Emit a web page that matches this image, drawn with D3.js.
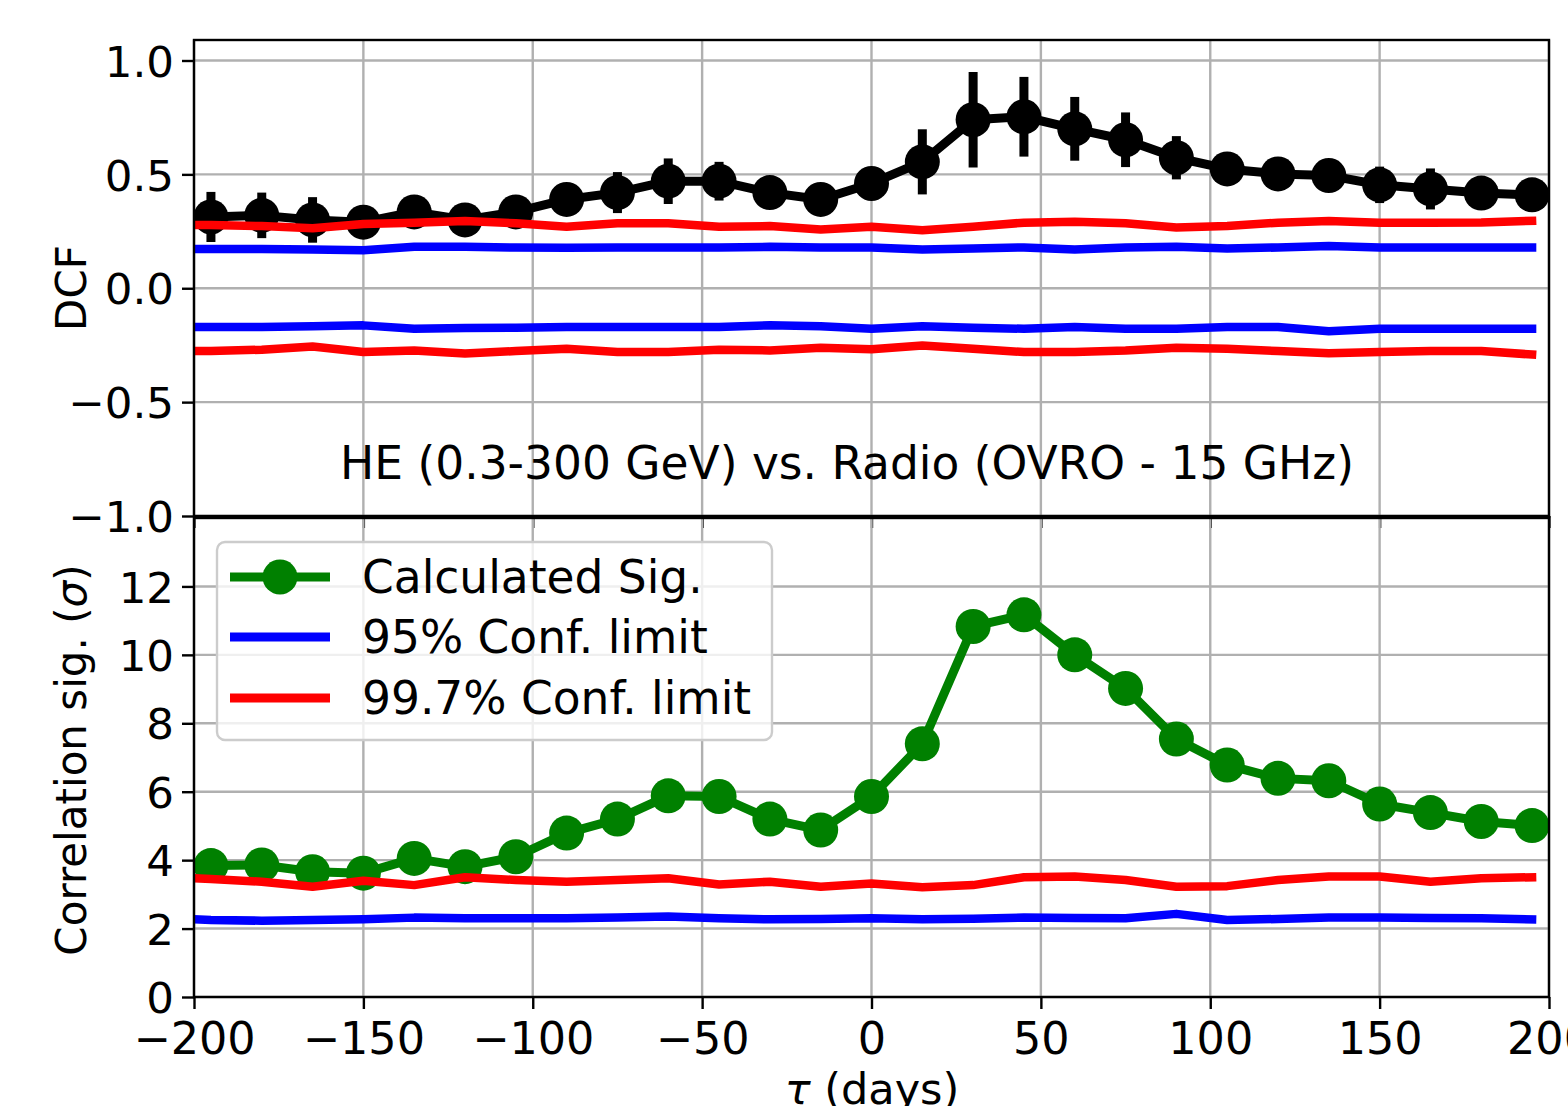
<!DOCTYPE html>
<html><head><meta charset="utf-8">
<script src="https://cdn.jsdelivr.net/npm/d3@7"></script>
<style>html,body{margin:0;padding:0;background:#fff;overflow:hidden}</style>
</head><body>
<svg id="chart" width="1568" height="1106"></svg>
<script>
// ---------- DATA ----------
const tau = [-195,-180,-165,-150,-135,-120,-105,-90,-75,-60,-45,-30,-15,0,15,30,45,60,75,90,105,120,135,150,165,180,195];
const dcf = [0.313,0.32,0.30,0.29,0.335,0.30,0.335,0.39,0.42,0.47,0.47,0.42,0.39,0.46,0.555,0.74,0.753,0.70,0.652,0.573,0.524,0.502,0.495,0.454,0.436,0.418,0.41];
const dcfErr = [0.11,0.10,0.10,0.06,0.06,0.06,0.06,0.06,0.09,0.10,0.085,0.06,0.06,0.06,0.143,0.21,0.175,0.14,0.12,0.095,0.06,0.06,0.06,0.08,0.09,0.06,0.05];
const sig = [3.84,3.86,3.66,3.62,4.05,3.81,4.10,4.79,5.20,5.88,5.86,5.20,4.88,5.86,7.40,10.83,11.17,10.0,9.02,7.54,6.78,6.39,6.32,5.64,5.39,5.13,5.01];

const limitTau = [-200,-195,-180,-165,-150,-135,-120,-105,-90,-75,-60,-45,-30,-15,0,15,30,45,60,75,90,105,120,135,150,165,180,195];
const dcf997Pos = [0.278,0.278,0.273,0.263,0.282,0.288,0.295,0.285,0.270,0.285,0.285,0.270,0.273,0.258,0.270,0.255,0.270,0.288,0.292,0.285,0.267,0.273,0.288,0.295,0.288,0.288,0.289,0.296];
const dcf95Pos = [0.172,0.172,0.172,0.170,0.167,0.182,0.182,0.179,0.178,0.179,0.179,0.179,0.182,0.179,0.179,0.170,0.175,0.179,0.170,0.179,0.182,0.175,0.179,0.185,0.179,0.179,0.179,0.179];
const dcf95Neg = [-0.170,-0.170,-0.170,-0.167,-0.163,-0.178,-0.175,-0.173,-0.170,-0.170,-0.170,-0.170,-0.163,-0.167,-0.178,-0.167,-0.173,-0.178,-0.170,-0.178,-0.178,-0.170,-0.170,-0.189,-0.178,-0.178,-0.178,-0.178];
const dcf997Neg = [-0.275,-0.275,-0.270,-0.256,-0.280,-0.273,-0.286,-0.276,-0.266,-0.280,-0.280,-0.270,-0.273,-0.261,-0.268,-0.251,-0.266,-0.280,-0.280,-0.273,-0.261,-0.266,-0.276,-0.285,-0.280,-0.276,-0.276,-0.291];
const sig997 = [3.47,3.45,3.37,3.22,3.40,3.27,3.50,3.42,3.37,3.42,3.47,3.29,3.37,3.22,3.32,3.21,3.27,3.50,3.52,3.42,3.22,3.24,3.42,3.52,3.52,3.37,3.47,3.50];
const sig95 = [2.27,2.25,2.23,2.25,2.27,2.32,2.30,2.30,2.30,2.32,2.35,2.30,2.27,2.28,2.30,2.27,2.29,2.32,2.31,2.30,2.43,2.25,2.28,2.32,2.32,2.31,2.30,2.27];

const xTicks = [-200,-150,-100,-50,0,50,100,150,200];
const topTicks = [1.0,0.5,0.0,-0.5,-1.0];
const botTicks = [0,2,4,6,8,10,12];
const titleText = "HE (0.3-300 GeV) vs. Radio (OVRO - 15 GHz)";
const legendLabels = ["Calculated Sig.","95% Conf. limit","99.7% Conf. limit"];

// ---------- LAYOUT ----------
const svg = d3.select("#chart");
const FONT = "DejaVu Sans, sans-serif";
svg.append("rect").attr("width",1568).attr("height",1106).attr("fill","#fff");

const L = 194, R = 1549;
const topBox = {y0: 40, y1: 516};
const botBox = {y0: 518, y1: 997};
const x = d3.scaleLinear().domain([-200,200]).range([L,R]);
const yT = d3.scaleLinear().domain([-1,1.09]).range([topBox.y1, topBox.y0]);
const yB = d3.scaleLinear().domain([0,14]).range([botBox.y1, botBox.y0]);

const defs = svg.append("defs");
defs.append("clipPath").attr("id","clipT").append("rect").attr("x",L).attr("y",topBox.y0).attr("width",R-L).attr("height",topBox.y1-topBox.y0);
defs.append("clipPath").attr("id","clipB").append("rect").attr("x",L).attr("y",botBox.y0).attr("width",R-L).attr("height",botBox.y1-botBox.y0);

const fmtMinus = s => s.replace("-","\u2212");

function drawPanel(y, box, yticks, fmt, showX) {
  const g = svg.append("g");
  g.selectAll(".gx").data(xTicks).enter().append("line")
    .attr("x1",d=>x(d)).attr("x2",d=>x(d)).attr("y1",box.y0).attr("y2",box.y1)
    .attr("stroke","#b0b0b0").attr("stroke-width",2.4);
  g.selectAll(".gy").data(yticks).enter().append("line")
    .attr("x1",L).attr("x2",R).attr("y1",d=>y(d)).attr("y2",d=>y(d))
    .attr("stroke","#b0b0b0").attr("stroke-width",2.4);
  const ya = d3.axisLeft(y).tickValues(yticks).tickSize(12).tickPadding(8).tickFormat(d=>fmtMinus(fmt(d)));
  const yg = svg.append("g").attr("transform",`translate(${L},0)`).call(ya);
  yg.select(".domain").remove();
  yg.selectAll(".tick line").attr("stroke","#000").attr("stroke-width",2.4);
  yg.selectAll(".tick text").attr("font-family",FONT).attr("font-size",43.5).attr("fill","#000").attr("dy","0.36em");
  const xa = d3.axisBottom(x).tickValues(xTicks).tickSize(12).tickPadding(12).tickFormat(d=>showX?fmtMinus(d3.format("d")(d)):"");
  const xg = svg.append("g").attr("transform",`translate(0,${box.y1})`).call(xa);
  xg.select(".domain").remove();
  xg.selectAll(".tick line").attr("stroke","#000").attr("stroke-width",2.4);
  xg.selectAll(".tick text").attr("font-family",FONT).attr("font-size",44.5).attr("fill","#000").attr("dy","0.74em");
  return g;
}

drawPanel(yT, topBox, topTicks, d3.format(".1f"), false);
drawPanel(yB, botBox, botTicks, d3.format("d"), true);

// ---------- TOP PANEL DATA ----------
const gT = svg.append("g").attr("clip-path","url(#clipT)");
const line = (ys) => d3.line().x(d=>x(d[0])).y(d=>ys(d[1]));
gT.selectAll(".err").data(tau.map((t,i)=>[t,dcf[i],dcfErr[i]])).enter().append("line")
  .attr("x1",d=>x(d[0])).attr("x2",d=>x(d[0]))
  .attr("y1",d=>yT(d[1]-d[2])).attr("y2",d=>yT(d[1]+d[2]))
  .attr("stroke","#000").attr("stroke-width",9);
gT.append("path").datum(tau.map((t,i)=>[t,dcf[i]])).attr("d",line(yT))
  .attr("fill","none").attr("stroke","#000").attr("stroke-width",9).attr("stroke-linejoin","round");
gT.selectAll(".mk").data(tau.map((t,i)=>[t,dcf[i]])).enter().append("circle")
  .attr("cx",d=>x(d[0])).attr("cy",d=>yT(d[1])).attr("r",17.5).attr("fill","#000");
const limLine = (g, ys, vals, color) => g.append("path")
  .datum(limitTau.map((t,i)=>[t,vals[i]])).attr("d",line(ys))
  .attr("fill","none").attr("stroke",color).attr("stroke-width",8.5)
  .attr("stroke-linecap","square").attr("stroke-linejoin","round");
limLine(gT, yT, dcf997Pos, "#ff0000");
limLine(gT, yT, dcf95Pos, "#0000ff");
limLine(gT, yT, dcf95Neg, "#0000ff");
limLine(gT, yT, dcf997Neg, "#ff0000");

svg.append("text").attr("x",847).attr("y",479).attr("text-anchor","middle")
  .attr("font-family",FONT).attr("font-size",45.5).attr("fill","#000").text(titleText);

// ---------- BOTTOM PANEL DATA ----------
const gB = svg.append("g").attr("clip-path","url(#clipB)");
const GREEN = "#008000";
gB.append("path").datum(tau.map((t,i)=>[t,sig[i]])).attr("d",line(yB))
  .attr("fill","none").attr("stroke",GREEN).attr("stroke-width",9).attr("stroke-linejoin","round");
gB.selectAll(".mk").data(tau.map((t,i)=>[t,sig[i]])).enter().append("circle")
  .attr("cx",d=>x(d[0])).attr("cy",d=>yB(d[1])).attr("r",17.5).attr("fill",GREEN);
limLine(gB, yB, sig997, "#ff0000");
limLine(gB, yB, sig95, "#0000ff");

// ---------- SPINES ----------
[topBox, botBox].forEach(b => {
  svg.append("rect").attr("x",L).attr("y",b.y0).attr("width",R-L).attr("height",b.y1-b.y0)
    .attr("fill","none").attr("stroke","#000").attr("stroke-width",2.4);
});

// ---------- LEGEND ----------
const lg = svg.append("g");
lg.append("rect").attr("x",217).attr("y",542).attr("width",555).attr("height",198)
  .attr("rx",8).attr("ry",8).attr("fill","#fff").attr("fill-opacity",0.8)
  .attr("stroke","#cccccc").attr("stroke-width",2.4);
const legColors = [GREEN,"#0000ff","#ff0000"];
const legY = [577, 637, 698];
legendLabels.forEach((lab,i) => {
  lg.append("line").attr("x1",230).attr("x2",330).attr("y1",legY[i]).attr("y2",legY[i])
    .attr("stroke",legColors[i]).attr("stroke-width",9).attr("stroke-linecap","butt");
  if (i===0) lg.append("circle").attr("cx",280).attr("cy",legY[i]).attr("r",17.5).attr("fill",GREEN);
  lg.append("text").attr("x",362).attr("y",legY[i]).attr("dy","0.36em")
    .attr("font-family",FONT).attr("font-size",45.5).attr("fill","#000").text(lab);
});

// ---------- AXIS LABELS ----------
svg.append("text").attr("transform","translate(86,288) rotate(-90)").attr("text-anchor","middle")
  .attr("font-family",FONT).attr("font-size",42).attr("fill","#000").text("DCF");
const cl = svg.append("text").attr("transform","translate(86,760) rotate(-90)").attr("text-anchor","middle")
  .attr("font-family",FONT).attr("font-size",42).attr("fill","#000");
cl.append("tspan").text("Correlation sig. (");
cl.append("tspan").attr("font-style","italic").text("σ");
cl.append("tspan").text(")");
const xl = svg.append("text").attr("x",872).attr("y",1104).attr("text-anchor","middle")
  .attr("font-family",FONT).attr("font-size",43).attr("fill","#000");
xl.append("tspan").attr("font-style","italic").text("τ");
xl.append("tspan").text(" (days)");
</script>
</body></html>
